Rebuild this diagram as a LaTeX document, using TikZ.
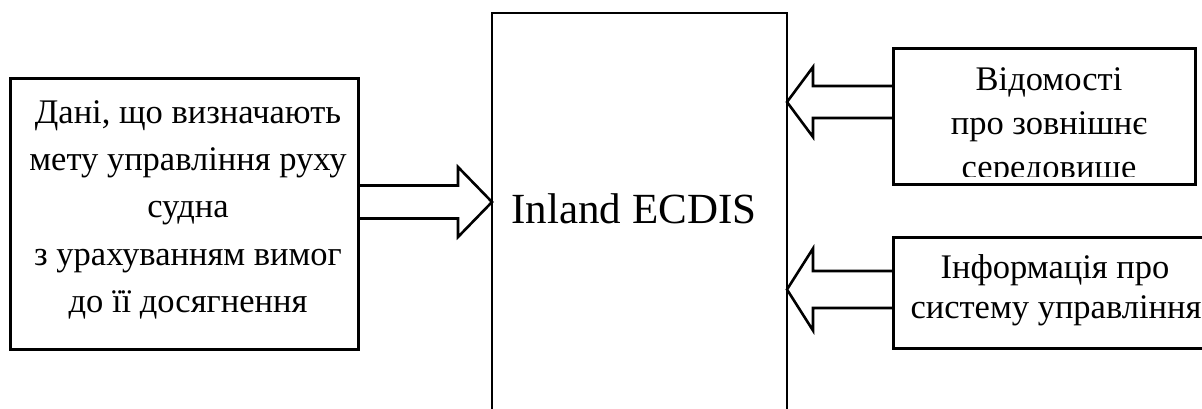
\documentclass[tikz,border=0pt]{standalone}
\usepackage{fontspec}
\setmainfont{Liberation Serif}
\usetikzlibrary{calc}
\tikzset{
  sidebox/.style={draw, line width=3pt, rectangle, inner sep=0pt, outer sep=0pt},
  mainbox/.style={draw, line width=2.4pt, rectangle, inner sep=0pt, outer sep=0pt},
  boxline/.style={inner sep=0pt, anchor=base, font=\fontsize{34.5}{40}\selectfont},
  blockarrow/.style={draw, line width=2.6pt, line join=miter, miter limit=10}
}
\newcommand{\blockarr}[5]{%
  \draw[blockarrow] ($(#1)+(0,#4)$) -- ($(#2)+(#3,#4)$) -- ($(#2)+(#3,#5)$) -- (#2)
    -- ($(#2)+(#3,-#5)$) -- ($(#2)+(#3,-#4)$) -- ($(#1)+(0,-#4)$);}
\begin{document}
\begin{tikzpicture}[x=1pt,y=-1pt]
\clip (0,0) rectangle (1202,408);
\fill[white] (0,0) rectangle (1202,408);
% boxes
\node[sidebox, minimum width=348pt, minimum height=271pt] (L) at (184,213.5) {};
\node[mainbox, minimum width=295pt, minimum height=430pt, anchor=north west] (C) at (492,13) {};
\node[sidebox, minimum width=302pt, minimum height=136pt] (R1) at (1044,116) {};
\node[sidebox, minimum width=322pt, minimum height=111pt] (R2) at (1054,292.5) {};
% left box text
\node[boxline] (L1) at (188,123) {Дані, що визначають};
\node[boxline] (L2) at (188,170) {мету управління руху};
\node[boxline] (L3) at (188,217.5) {судна};
\node[boxline] (L4) at (188,265) {з урахуванням вимог};
\node[boxline] (L5) at (188,312.5) {до її досягнення};
% centre text
\node[inner sep=0pt, anchor=base, font=\fontsize{43}{50}\selectfont] (Ct) at (634,223) {Inland ECDIS};
% right box 1 text
\node[boxline] (R1a) at (1049,90) {Відомості};
\node[boxline] (R1b) at (1049,134) {про зовнішнє};
\begin{scope}
  \clip (893,48) rectangle (1195,176);
  \node[boxline] (R1c) at (1049,178) {середовище};
\end{scope}
% right box 2 text
\node[boxline] (R2a) at (1055,278) {Інформація про};
\node[boxline] (R2b) at (1056,318) {систему управління};
% arrow anchor points
\coordinate (a1s) at (L.east |- 0,202);
\coordinate (a1t) at (C.west |- 0,202);
\coordinate (a2s) at (R1.west |- 0,102);
\coordinate (a2t) at (C.east |- 0,102);
\coordinate (a3s) at (R2.west |- 0,289.5);
\coordinate (a3t) at (C.east |- 0,289.5);
\blockarr{a1s}{a1t}{-34}{16.5}{35}
\blockarr{a2s}{a2t}{26}{16}{35}
\blockarr{a3s}{a3t}{26}{18.5}{41}
\end{tikzpicture}
\end{document}
